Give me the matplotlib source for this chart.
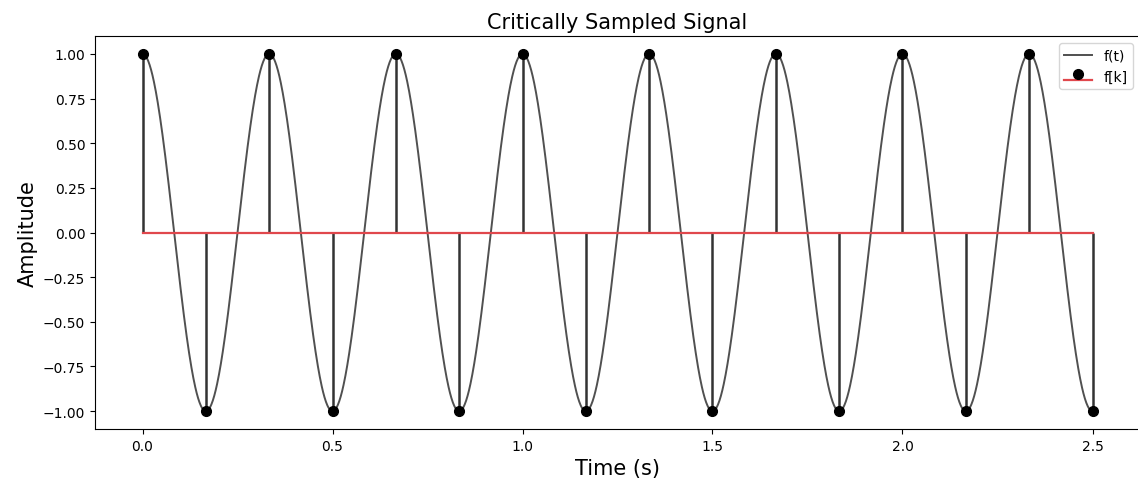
import numpy as np
import matplotlib
matplotlib.use("Agg")
import matplotlib.pyplot as plt

signal_freq = 3.0
duration = 2.5
sample_times = [0, 1/6, 2/6, 3/6, 4/6, 5/6, 1.0, 7/6, 8/6, 9/6, 10/6, 11/6, 2.0, 13/6, 14/6, 15/6]
sample_values = [1, -1, 1, -1, 1, -1, 1, -1, 1, -1, 1, -1, 1, -1, 1, -1]

t = np.linspace(0, duration, 2000)
f_t = np.cos(2 * np.pi * signal_freq * t)

fig = plt.figure(figsize=(11.38, 4.85), dpi=100)
ax = fig.add_axes([95/1138, 1 - 430/485, (1140 - 95)/1138, (430 - 37)/485])

ax.plot(t, f_t, color="#505050", lw=1.4, label="f(t)")
markerline, stemlines, baseline = ax.stem(sample_times, sample_values, label="f[k]")
plt.setp(markerline, color="k", markersize=7)
plt.setp(stemlines, color="#333333", lw=1.8)
plt.setp(baseline, color="#e0474c", lw=1.6)

ax.set_title("Critically Sampled Signal", fontsize=15)
ax.set_xlabel("Time (s)", fontsize=15)
ax.set_ylabel("Amplitude", fontsize=15)
ax.set_yticks(np.arange(-1, 1.01, 0.25))
ax.legend(loc="upper right")

fig.savefig("out.png", dpi=100)
